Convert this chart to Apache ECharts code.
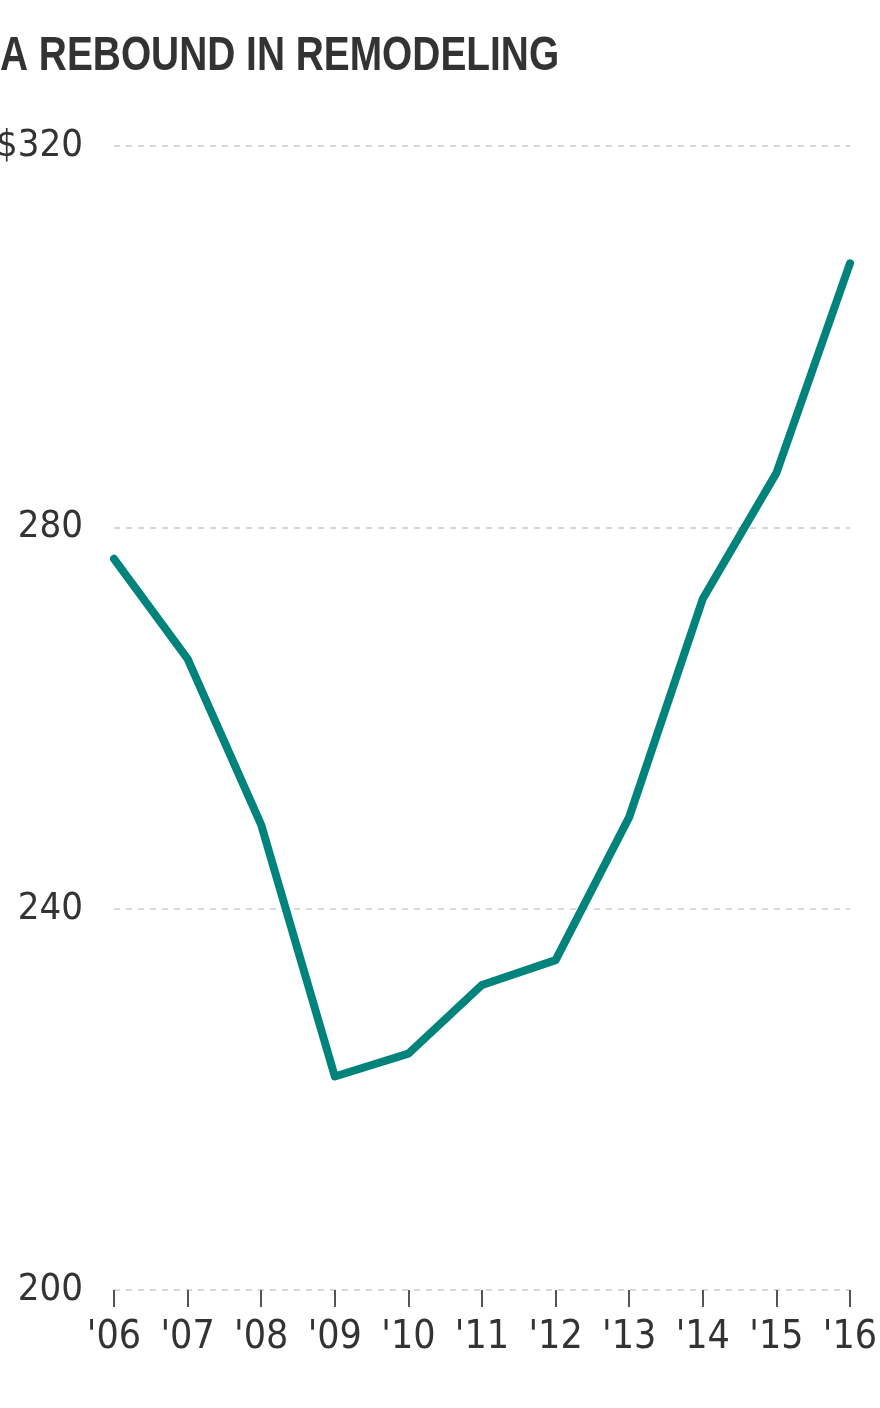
<!DOCTYPE html>
<html><head><meta charset="utf-8">
<script src="https://cdn.jsdelivr.net/npm/echarts@6/dist/echarts.min.js"></script>
<style>html,body{margin:0;padding:0;background:#fff}#c{width:880px;height:1408px}</style>
</head><body><div id="c"></div>
<script>
const title = "A REBOUND IN REMODELING";
const years = ["'06","'07","'08","'09","'10","'11","'12","'13","'14","'15","'16"];
const values = [276.7, 266.2, 248.8, 222.4, 224.8, 232.0, 234.6, 249.6, 272.5, 285.7, 307.7];
const yTicks = [200, 240, 280, 320];

const font = '"DejaVu Sans Condensed","Liberation Sans",sans-serif';
const chart = echarts.init(document.getElementById('c'), null, {renderer:'canvas'});
chart.setOption({
  animation:false,
  backgroundColor:'#fff',
  graphic:[{type:'text', left:0, top:32, scaleX:0.793, originX:0,
    style:{text:title, font:'bold 49px "Liberation Sans", Arial, sans-serif', fill:'#333'}}],
  grid:{left:114, right:30, top:146, bottom:118, containLabel:false, outerBoundsMode:'none'},
  xAxis:{type:'category', data:years, boundaryGap:false,
    axisLine:{show:false},
    axisTick:{show:true, length:17, interval:0, lineStyle:{color:'#555', width:2}},
    axisLabel:{fontFamily:font, fontSize:39, color:'#333', margin:28, interval:0}},
  yAxis:{type:'value', min:200, max:320, interval:40,
    axisLine:{show:false}, axisTick:{show:false},
    axisLabel:{fontFamily:font, fontSize:38, color:'#333', margin:31,
      formatter:v=> yTicks.includes(v) ? (v===320?'$'+v:String(v)) : ''},
    splitLine:{lineStyle:{color:'#d8d8d8', type:[6,6], width:2}}},
  series:[{type:'line', data:values, symbol:'none', lineStyle:{color:'#00837b', width:8, cap:'round', join:'round'}}]
});
</script></body></html>
